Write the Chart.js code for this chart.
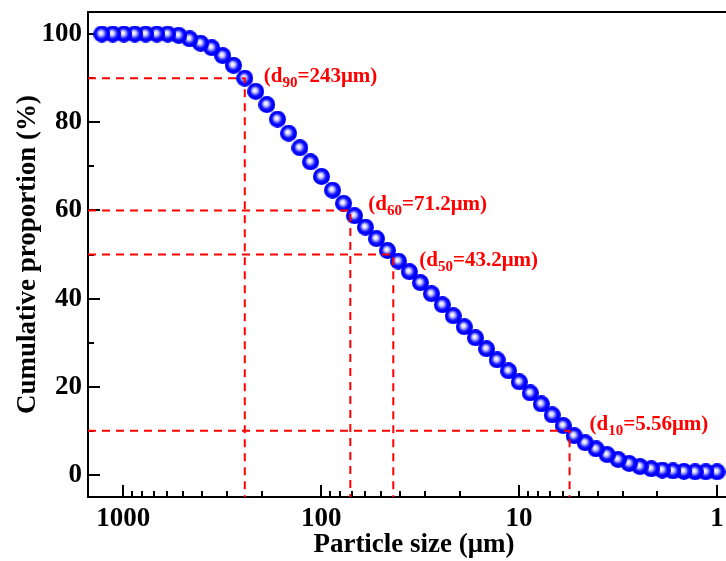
<!DOCTYPE html>
<html lang="en">
<head>
<meta charset="utf-8">
<title>Particle size distribution</title>
<script src="https://cdn.jsdelivr.net/npm/chart.js@4.4.1/dist/chart.umd.min.js"></script>
<style>
  html, body { margin: 0; padding: 0; background: #fff; overflow: hidden; }
  #wrap { width: 750px; height: 561px; }
</style>
</head>
<body>
<div id="wrap"><canvas id="chart" width="750" height="561"></canvas></div>
<script>

// particle size classes (um) and cumulative passing (%)
var sizes = [1.00, 1.14, 1.29, 1.47, 1.67, 1.89, 2.15, 2.45, 2.78, 3.16,
             3.59, 4.08, 4.63, 5.27, 5.98, 6.80, 7.72, 8.78, 9.97, 11.3,
             12.9, 14.6, 16.6, 18.9, 21.5, 24.4, 27.7, 31.5, 35.8, 40.7,
             46.2, 52.5, 59.7, 67.8, 77.0, 87.6, 99.5, 113, 128, 146,
             166, 188, 214, 243, 277, 314, 357, 406, 461, 524,
             595, 676, 769, 873, 992, 1128, 1281]
var cumulative = [0.7, 0.7, 0.7, 0.8, 0.9, 1.1, 1.4, 1.9, 2.6, 3.5,
                  4.6, 5.9, 7.3, 8.9, 11.2, 13.6, 16.1, 18.6, 21.1, 23.6,
                  26.1, 28.6, 31.1, 33.6, 36.1, 38.6, 41.1, 43.6, 46.1, 48.5,
                  50.9, 53.6, 56.2, 58.8, 61.6, 64.6, 67.7, 71.0, 74.2, 77.5,
                  80.7, 84.0, 87.0, 90.0, 92.9, 95.1, 96.9, 97.9, 98.9, 99.7,
                  100, 100, 100, 100, 100, 100, 100]

// characteristic diameters
var dLevels = [90, 60, 50, 10]
var dSizes = [243, 71.2, 43.2, 5.56]

var xTicks = [1, 10, 100, 1000]
var yTicks = [0, 20, 40, 60, 80, 100]

var X_MIN = 0.766, X_MAX = 1505
var Y_MIN = -5, Y_MAX = 105

// label placement relative to the (size, level) point: [dx, dy of baseline]
var labelOffsets = [[19, 4], [18, 0], [26, 11], [20, -1]]

function makeBall(r) {
  var c = document.createElement('canvas')
  c.width = c.height = Math.ceil(r * 2)
  var g = c.getContext('2d')
  var grad = g.createRadialGradient(r - 1.2, r - 1.2, 0, r, r, r)
  grad.addColorStop(0, '#ffffff')
  grad.addColorStop(0.2, '#e6e6ff')
  grad.addColorStop(0.4, '#8484ff')
  grad.addColorStop(0.56, '#2222ff')
  grad.addColorStop(0.72, '#0000ff')
  grad.addColorStop(1, '#0000f4')
  g.fillStyle = grad
  g.beginPath()
  g.arc(r, r, r, 0, Math.PI * 2)
  g.fill()
  return c
}

var serif = '"Liberation Serif", "Times New Roman", serif'

var points = sizes.map(function (s, i) { return { x: s, y: cumulative[i] } })

var datasets = [{
  label: 'Cumulative',
  data: points,
  showLine: false,
  pointStyle: makeBall(8.5),
  pointRadius: 8.5,
  pointHoverRadius: 8.5,
  order: 1
}]

dLevels.forEach(function (lv, i) {
  datasets.push({
    label: 'd' + lv,
    data: [{ x: X_MAX, y: lv }, { x: dSizes[i], y: lv }, { x: dSizes[i], y: Y_MIN }],
    showLine: true,
    borderColor: '#ff0000',
    borderWidth: 2,
    borderDash: [8, 6],
    pointRadius: 0,
    fill: false,
    order: 0
  })
})

// inward tick marks, top/right frame and the d-value labels
var decor = {
  id: 'decor',
  beforeDatasetsDraw: function (chart) {
    var ctx = chart.ctx, a = chart.chartArea
    var xs = chart.scales.x, ys = chart.scales.y
    ctx.save()
    ctx.strokeStyle = '#000'
    ctx.lineWidth = 2
    ctx.beginPath()
    ctx.moveTo(a.left, a.top); ctx.lineTo(a.right, a.top); ctx.lineTo(a.right, a.bottom)
    ctx.stroke()
    ctx.beginPath()
    xTicks.forEach(function (d) {
      for (var m = 1; m <= 9; m++) {
        var v = d * m
        if (v < X_MIN || v > X_MAX) continue
        var px = Math.round(xs.getPixelForValue(v))
        ctx.moveTo(px, a.bottom)
        ctx.lineTo(px, a.bottom - (m === 1 ? 12 : 6))
      }
    })
    for (var v = 0; v <= 100; v += 10) {
      var py = Math.round(ys.getPixelForValue(v))
      ctx.moveTo(a.left, py)
      ctx.lineTo(a.left + (v % 20 === 0 ? 12 : 6), py)
    }
    ctx.stroke()
    ctx.restore()
  },
  afterDatasetsDraw: function (chart) {
    var ctx = chart.ctx
    var xs = chart.scales.x, ys = chart.scales.y
    ctx.save()
    ctx.fillStyle = '#ff0000'
    ctx.textBaseline = 'alphabetic'
    dLevels.forEach(function (lv, i) {
      var x = xs.getPixelForValue(dSizes[i]) + labelOffsets[i][0]
      var y = ys.getPixelForValue(lv) + labelOffsets[i][1]
      var parts = [['(d', 21, 0], [String(lv), 15, 5], ['=' + dSizes[i] + 'μm)', 21, 0]]
      parts.forEach(function (p) {
        ctx.font = 'bold ' + p[1] + 'px ' + serif
        ctx.fillText(p[0], x, y + p[2])
        x += ctx.measureText(p[0]).width
      })
    })
    ctx.restore()
  }
}

var ctx = document.getElementById('chart').getContext('2d')
var chart = new Chart(ctx, {
  type: 'scatter',
  data: { datasets: datasets },
  plugins: [decor],
  options: {
    responsive: false,
    animation: false,
    layout: { padding: { top: 12, right: 10, left: 0, bottom: 0 } },
    plugins: { legend: { display: false }, tooltip: { enabled: false } },
    scales: {
      x: {
        type: 'logarithmic',
        reverse: true,
        min: X_MIN,
        max: X_MAX,
        afterBuildTicks: function (s) { s.ticks = xTicks.map(function (v) { return { value: v, major: true } }) },
        afterFit: function (s) { s.height = 64; s.paddingLeft = 0; s.paddingRight = 0 },
        grid: { display: false, drawTicks: false },
        border: { display: true, color: '#000', width: 2 },
        ticks: {
          color: '#000',
          padding: 6,
          autoSkip: false,
          maxRotation: 0,
          font: { family: serif, size: 27, weight: 'bold' },
          callback: function (v) { return String(v) }
        },
        title: {
          display: true,
          text: 'Particle size (μm)',
          color: '#000',
          padding: { top: 0, bottom: 0 },
          font: { family: serif, size: 27, weight: 'bold' }
        }
      },
      y: {
        min: Y_MIN,
        max: Y_MAX,
        afterBuildTicks: function (s) { s.ticks = yTicks.map(function (v) { return { value: v } }) },
        afterFit: function (s) { s.width = 88; s.paddingTop = 0; s.paddingBottom = 0 },
        grid: { display: false, drawTicks: false },
        border: { display: true, color: '#000', width: 2 },
        ticks: {
          color: '#000',
          padding: 6,
          font: { family: serif, size: 27, weight: 'bold' }
        },
        title: {
          display: true,
          text: 'Cumulative proportion (%)',
          color: '#000',
          padding: { top: 12, bottom: 0 },
          font: { family: serif, size: 27, weight: 'bold' }
        }
      }
    }
  }
})
</script>
</body>
</html>
